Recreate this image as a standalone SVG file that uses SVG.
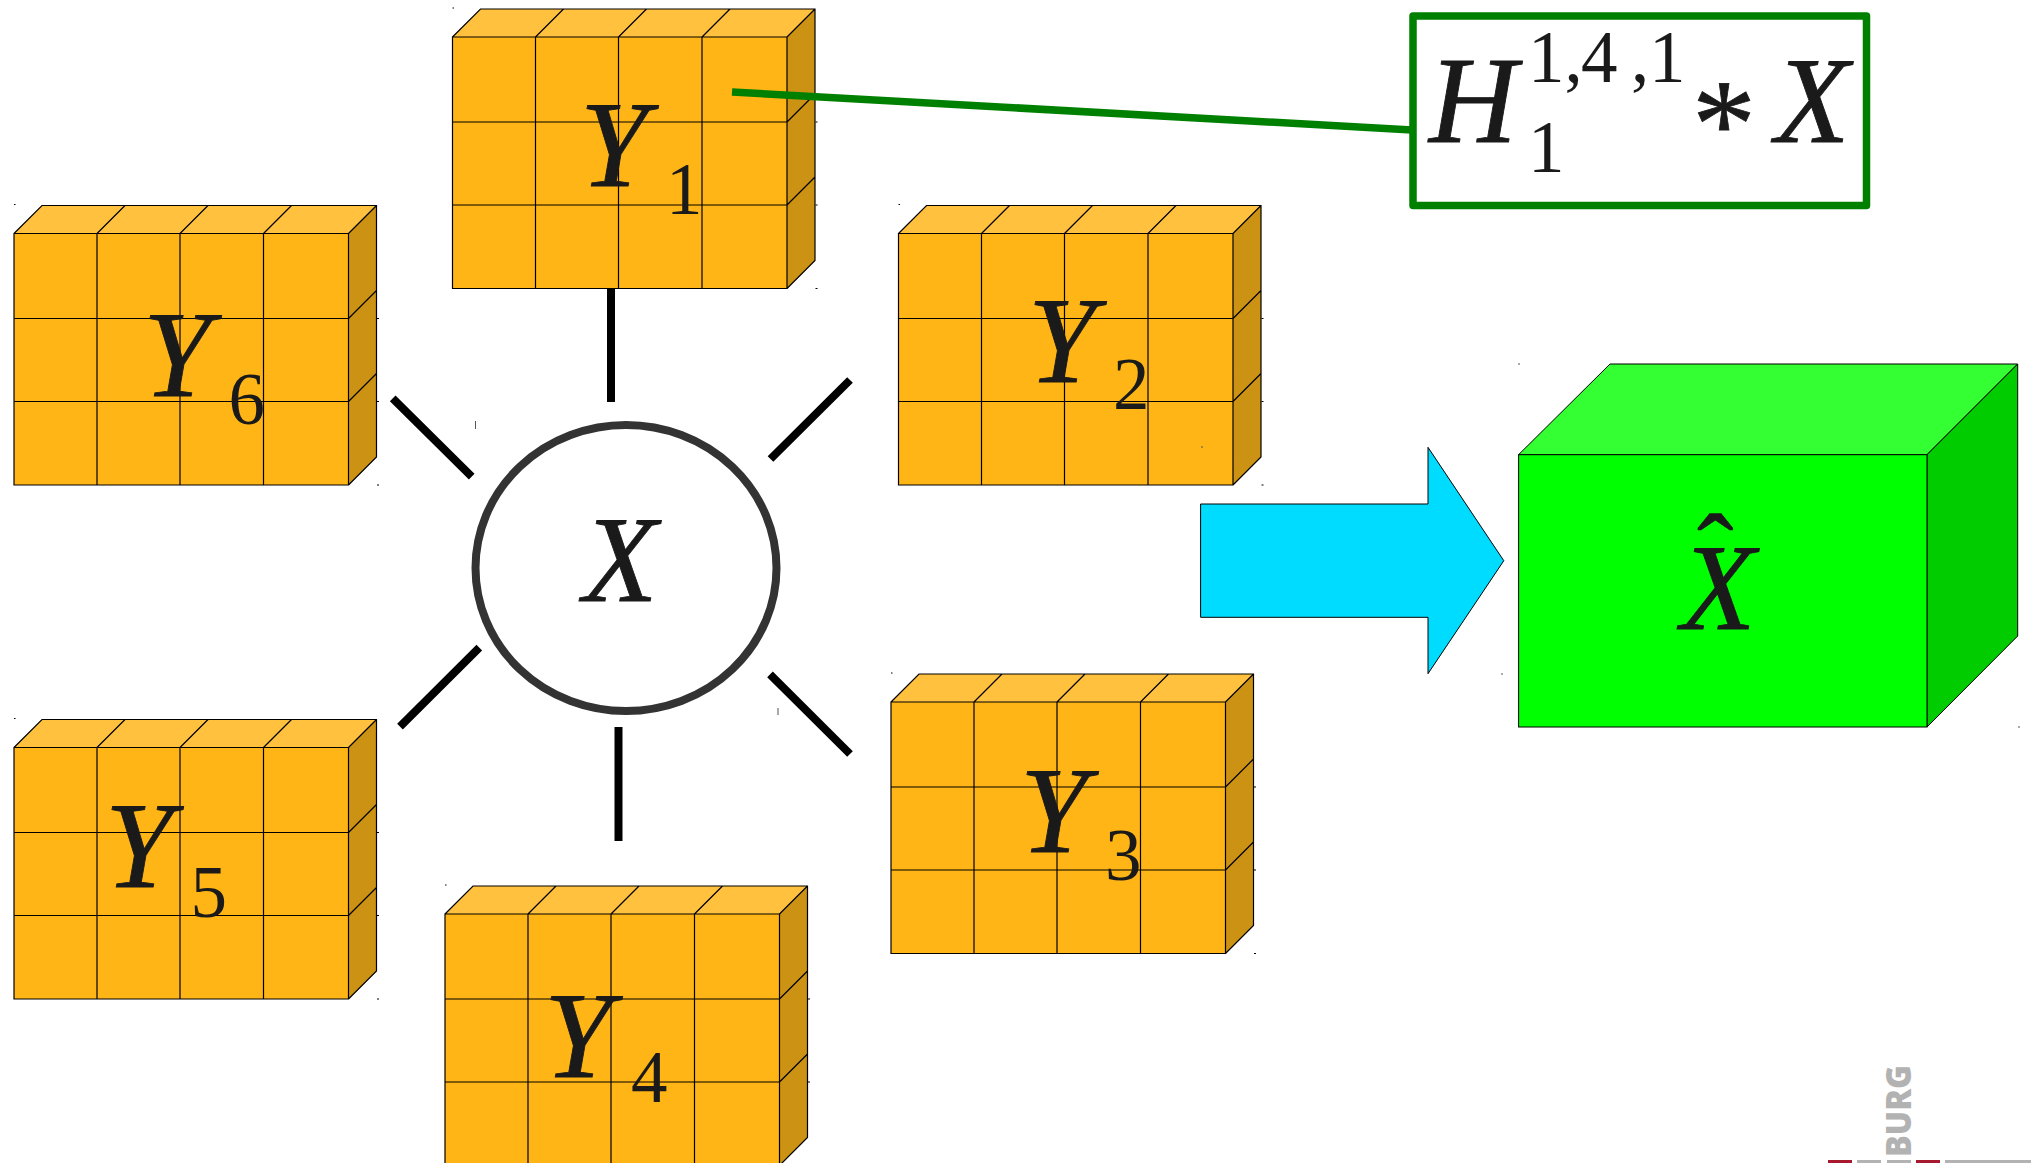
<svg xmlns="http://www.w3.org/2000/svg" width="2031" height="1163" viewBox="0 0 2031 1163">
<style>
.t{font-family:"Liberation Serif",serif;fill:#1a1a1a}
.i{font-style:italic;font-size:122px;stroke:#1a1a1a;stroke-width:.9}
.s{font-size:73px}
.g{fill:none;stroke:#000;stroke-width:1.2}
.c{stroke:#000;stroke-width:8;fill:none}
.gr{stroke:#008000;stroke-width:7.5;fill:none;stroke-linejoin:round}
.k{stroke:#000;stroke-width:1}
</style>
<defs>
<g id="box">
<rect x="0" y="0" width="334.5" height="251.5" fill="#ffb515"/>
<path d="M0 0L28 -28H362.5L334.5 0Z" fill="#ffc13e"/>
<path d="M334.5 0L362.5 -28V223.5L334.5 251.5Z" fill="#cc9213"/>
<path class="g" d="M0 0H334.5V251.5H0ZM83 0V251.5M166 0V251.5M249.5 0V251.5M0 85H334.5M0 168H334.5M0 0L28 -28H362.5V223.5L334.5 251.5M83 0L111 -28M166 0L194 -28M249.5 0L277.5 -28M334.5 0L362.5 -28M334.5 85L362.5 57M334.5 168L362.5 140"/>
<path class="k" d="M0 -29h1.5M363 85h2M363 168h2M363 251.5h2"/>
</g>
</defs>
<g id="Y1"><use href="#box" x="452.5" y="37"/><text class="t i" x="580" y="186">Y</text><text class="t s" x="666" y="214">1</text></g>
<g id="Y2"><use href="#box" x="898.5" y="233.5"/><text class="t i" x="1028" y="382">Y</text><text class="t s" x="1113" y="409">2</text></g>
<g id="Y3"><use href="#box" x="891" y="702"/><text class="t i" x="1020" y="852">Y</text><text class="t s" x="1105" y="880">3</text></g>
<g id="Y4"><use href="#box" x="445" y="914"/><text class="t i" x="544" y="1077">Y</text><text class="t s" x="631" y="1102">4</text></g>
<g id="Y5"><use href="#box" x="14" y="747.5"/><text class="t i" x="105" y="887">Y</text><text class="t s" x="190.5" y="917">5</text></g>
<g id="Y6"><use href="#box" x="14" y="233.5"/><text class="t i" x="143" y="396">Y</text><text class="t s" x="228.5" y="423.5">6</text></g>
<g id="X"><ellipse cx="626" cy="568" rx="150.5" ry="143" fill="#fff" stroke="#333" stroke-width="8"/><text class="t i" x="583" y="601">X</text></g>
<g id="connectors">
<path class="c" d="M611 289V402M618.5 727V841M392.7 398.3L471.7 476.7M770.5 459L850 380M479.3 647.7L400 726.7M770 674.3L850 754"/>
<path class="gr" d="M732 92L1412 130"/>
</g>
<g id="formula">
<rect class="gr" x="1413" y="16" width="453.5" height="189.5" fill="#fff"/>
<text class="t i" x="1429" y="141.7">H</text>
<text class="t s" x="1528" y="82">1,</text><text class="t s" x="1581" y="82">4</text><text class="t s" x="1631" y="82">,</text><text class="t s" x="1649" y="82">1</text>
<text class="t s" x="1528" y="172">1</text>
<text class="t" style="font-size:128px;stroke:#1a1a1a;stroke-width:.8" x="1692" y="167">*</text>
<text class="t i" x="1775" y="141.7">X</text>
</g>
<g id="arrow"><path d="M1200.6 504H1428V447.3L1503.8 560.7L1428 673.7V617.3H1200.6Z" fill="#00dcff" stroke="#000" stroke-width="1"/></g>
<g id="Xhat">
<path d="M1518.6 454.7L1610 364H2017.7L1927 454.7Z" fill="#33ff33" stroke="#000" stroke-width="1"/>
<path d="M1927 454.7L2017.7 364V636L1927 727Z" fill="#00cc00" stroke="#000" stroke-width="1"/>
<rect x="1518.6" y="454.7" width="408.4" height="272.3" fill="#00ff00" stroke="#000" stroke-width="1"/>
<text class="t i" x="1681" y="629">X</text>
<text class="t" style="font-size:110px;stroke:#1a1a1a;stroke-width:.6" x="1697" y="590">ˆ</text>
</g>
<g id="logo">
<text transform="translate(1911 1157) rotate(-90)" textLength="92" lengthAdjust="spacingAndGlyphs" style="font-family:'Open Sans',sans-serif;font-weight:800;font-size:36px" fill="#b2b2b2">BURG</text>
<rect x="1828" y="1160" width="24" height="3" fill="#a6192e"/><rect x="1857" y="1160" width="24" height="3" fill="#b2b2b2"/><rect x="1887" y="1160" width="24" height="3" fill="#b2b2b2"/><rect x="1916" y="1160" width="24" height="3" fill="#a6192e"/><rect x="1945" y="1160" width="86" height="3" fill="#b2b2b2"/>
</g>
<path id="specks" stroke="#555" stroke-width="1" fill="none" d="M475.5 421v8M778 708v7M1518 364h2M1201 447h2M1501 674h2M2018 727h2"/>
</svg>
